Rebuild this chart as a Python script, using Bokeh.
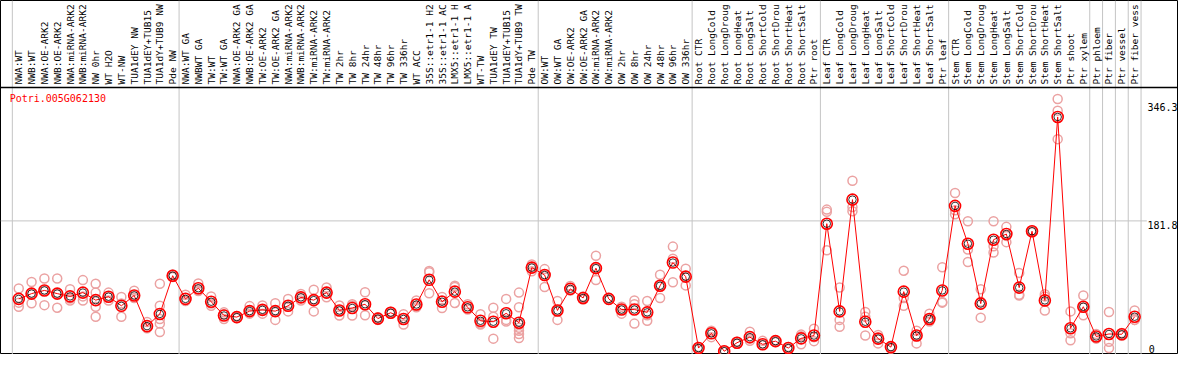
import math
from bokeh.plotting import figure
from bokeh.models import Range1d
from bokeh.core.properties import value
from bokeh.embed import file_html
from bokeh.resources import INLINE

gene_id = "Potri.005G062130"

categories = [
    "NWA:WT", "NWB:WT", "NWA:OE-ARK2", "NWB:OE-ARK2", "NWA:miRNA-ARK2", "NWB:miRNA-ARK2",
    "NW 0hr", "WT H2O", "WT-NW", "TUA1dEY NW", "TUA1dEY+TUB15", "TUA1dY+TUB9 NW", "Pde NW",
    "NWA:WT GA", "NWBWT GA", "TW:WT", "TW:WT GA", "NWA:OE-ARK2 GA", "NWB:OE-ARK2 GA",
    "TW:OE-ARK2", "TW:OE-ARK2 GA", "NWA:miRNA-ARK2", "NWB:miRNA-ARK2", "TW:miRNA-ARK2",
    "TW:miRNA-ARK2", "TW 2hr", "TW 8hr", "TW 24hr", "TW 48hr", "TW 96hr", "TW 336hr",
    "WT ACC", "35S::etr1-1 H2", "35S::etr1-1 AC", "LMX5::etr1-1 H", "LMX5::etr1-1 A",
    "WT-TW", "TUA1dEY TW", "TUA1dEY+TUB15", "TUA1dY+TUB9 TW", "Pde TW",
    "OW:WT", "OW:WT GA", "OW:OE-ARK2", "OW:OE-ARK2 GA", "OW:miRNA-ARK2", "OW:miRNA-ARK2",
    "OW 2hr", "OW 8hr", "OW 24hr", "OW 48hr", "OW 96hr", "OW 336hr",
    "Root CTR", "Root LongCold", "Root LongDroug", "Root LongHeat", "Root LongSalt",
    "Root ShortCold", "Root ShortDrou", "Root ShortHeat", "Root ShortSalt", "Ptr root",
    "Leaf CTR", "Leaf LongCold", "Leaf LongDroug", "Leaf LongHeat", "Leaf LongSalt",
    "Leaf ShortCold", "Leaf ShortDrou", "Leaf ShortHeat", "Leaf ShortSalt", "Ptr leaf",
    "Stem CTR", "Stem LongCold", "Stem LongDroug", "Stem LongHeat", "Stem LongSalt",
    "Stem ShortCold", "Stem ShortDrou", "Stem ShortHeat", "Stem ShortSalt", "Ptr shoot",
    "Ptr xylem", "Ptr phloem", "Ptr fiber", "Ptr vessel", "Ptr fiber vess",
]

# number of categories in each group (separated by grey lines)
group_sizes = [13, 28, 12, 10, 10, 11, 1, 1, 1, 1]

means = [
    73.2, 80.6, 85.0, 80.6, 76.7, 82.0, 71.5, 76.3, 63.6, 78.0, 35.3, 52.3, 105.5,
    73.2, 88.1, 69.3, 50.1, 47.9, 56.2, 58.0, 56.2, 63.6, 75.4, 71.5, 82.0, 57.1, 60.6,
    65.8, 45.8, 54.0, 45.3, 65.4, 99.8, 69.3, 83.3, 61.5, 42.7, 41.4, 53.2, 40.1, 116.8,
    106.4, 57.1, 87.2, 74.5, 116.0, 73.2, 58.4, 58.4, 54.5, 91.5, 123.8, 104.2,
    4.8, 25.3, 0.4, 12.2, 20.0, 10.0, 14.4, 4.8, 18.3, 22.2,
    177.9, 55.8, 211.4, 41.4, 17.9, 6.1, 83.3, 22.2, 45.3, 85.0,
    202.7, 150.0, 66.7, 155.6, 163.5, 88.9, 167.4, 71.1, 326.5, 32.3,
    62.3, 20.9, 24.4, 24.0, 48.4,
]

replicates = [
    [87.6, 68.0, 62.3], [96.8, 80.6, 67.1], [101.6, 85.0, 64.5], [101.6, 80.6, 61.0],
    [86.7, 73.7, 71.1], [99.4, 76.7, 71.1], [94.2, 82.0, 62.3, 48.4], [82.0, 76.3, 71.1],
    [75.9, 66.7, 48.4], [84.6, 78.0, 74.5], [41.0, 33.1, 32.3],
    [94.2, 63.6, 45.3, 38.8, 27.0], [107.2, 105.5, 103.8],
    [78.9, 71.1, 70.2], [94.6, 85.9, 84.1], [76.7, 63.6, 66.7], [54.5, 45.3, 51.9],
    [49.3, 47.9, 46.6], [63.2, 52.7, 56.2], [64.1, 52.7, 58.0], [67.1, 44.0, 56.2],
    [73.2, 55.8, 63.2], [80.2, 71.1, 74.5], [85.9, 55.8, 72.4], [89.0, 75.4, 81.1],
    [64.1, 50.1, 57.1], [65.8, 50.1, 63.6], [82.4, 50.5, 64.5], [47.5, 45.8, 44.0],
    [55.4, 54.0, 52.7], [51.9, 37.5, 46.2], [71.1, 61.5, 63.6], [112.0, 110.3, 81.1],
    [75.9, 60.6, 71.5], [91.5, 67.6, 89.8], [65.8, 58.4, 60.2], [51.9, 37.5, 38.8],
    [61.0, 48.4, 17.9], [73.2, 44.0, 41.8], [82.0, 61.5, 37.5, 33.1, 28.8, 24.4, 18.7],
    [121.2, 111.6, 116.8],
    [114.7, 89.8, 106.4], [70.2, 44.0, 57.1], [91.1, 85.0, 85.4], [76.7, 74.5, 72.4],
    [133.4, 99.4, 116.0], [74.5, 73.2, 71.9], [62.3, 52.7, 58.4], [71.1, 65.8, 38.8],
    [70.2, 42.7, 50.5], [106.8, 74.5, 91.5], [146.0, 129.0, 96.3], [115.1, 92.0, 105.1],
    [6.1, 4.8, 3.5], [28.8, 20.0, 26.6], [1.3, 0.4, 0.0], [13.5, 12.2, 10.9],
    [27.5, 14.8, 17.9], [14.8, 10.0, 9.1], [15.7, 14.4, 13.1], [6.1, 4.8, 3.5],
    [23.5, 10.0, 21.3], [31.8, 14.4, 20.0],
    [197.5, 194.4, 140.8], [89.0, 44.0, 34.4], [237.6, 201.0, 195.3], [55.0, 48.4, 22.2],
    [23.1, 17.9, 11.3], [7.0, 3.9, 6.1], [112.5, 74.5, 63.6], [28.8, 21.3, 11.3],
    [52.7, 41.8, 45.3], [117.3, 68.9, 68.0],
    [220.6, 196.6, 191.0], [181.4, 142.1, 124.7], [86.7, 69.3, 47.1], [181.4, 146.5, 137.8],
    [173.5, 160.9, 152.2], [109.4, 78.9, 78.0], [168.3, 167.4, 166.5], [79.8, 76.7, 57.1],
    [351.4, 335.3, 295.6], [55.8, 25.3, 15.7],
    [78.0, 61.5, 50.5], [24.4, 17.9, 20.0], [55.0, 13.5, 4.8], [25.7, 24.4, 22.2],
    [57.1, 44.0, 44.0],
]

tick_values = [0, 181.8, 346.3]
tick_labels = ["0", "181.8", "346.3"]

# ---------------------------------------------------------------------------
n = len(categories)
xs = list(range(1, n + 1))

Y_MIN, Y_MAX = -4.18, 488.6
LABEL_BASE = 367.5
X_MIN, X_MAX = -0.423, 91.42
FONT = value("DejaVu Sans Mono")

p = figure(width=1178, height=354, output_backend="svg", toolbar_location=None,
           x_range=Range1d(X_MIN, X_MAX), y_range=Range1d(Y_MIN, Y_MAX),
           x_axis_location=None, y_axis_location=None,
           min_border=0, min_border_left=0, min_border_right=0,
           min_border_top=0, min_border_bottom=0)
p.grid.visible = False
p.outline_line_color = "black"
p.outline_line_width = 1
p.background_fill_color = "white"
p.border_fill_color = "white"

# group separators (grey vertical lines)
bounds = [0.5]
acc = 0.5
for g in group_sizes:
    acc += g
    bounds.append(acc)
p.segment(x0=bounds, x1=bounds, y0=[Y_MIN] * len(bounds), y1=[Y_MAX] * len(bounds),
          line_color="#c4c4c4", line_width=1)

# horizontal grid line at middle tick
p.segment(x0=[X_MIN], x1=[88.95], y0=[tick_values[1]], y1=[tick_values[1]],
          line_color="#c4c4c4", line_width=1)

# separator between labels and plot
p.segment(x0=[X_MIN], x1=[X_MAX], y0=[LABEL_BASE], y1=[LABEL_BASE],
          line_color="black", line_width=1.5)

# category labels (rotated)
p.text(x=xs, y=[LABEL_BASE + 4.2] * n, text=categories, angle=math.pi / 2,
       text_align="left", text_baseline="middle",
       text_font=FONT, text_font_size="9.5px", text_color="black")

# gene title
p.text(x=[0.29], y=[360.5], text=[gene_id], text_align="left", text_baseline="top",
       text_font=FONT, text_font_size="10px", text_color="red")

# right tick labels
p.text(x=[89.0, 89.0], y=tick_values[1:], text=tick_labels[1:], text_align="left",
       text_baseline="top", text_font=FONT, text_font_size="10px", text_color="black")
p.text(x=[89.1], y=[tick_values[0]], text=[tick_labels[0]], text_align="left",
       text_baseline="alphabetic", y_offset=-2, text_font=FONT,
       text_font_size="10px", text_color="black")

# replicates
rx, ry = [], []
for i, reps in enumerate(replicates):
    for v in reps:
        rx.append(i + 1)
        ry.append(v)
p.scatter(rx, ry, marker="circle", size=9, fill_color=None,
          line_color="#eba2a2", line_width=1.5)

# mean line and markers
p.line(xs, means, line_color="red", line_width=1)
p.scatter(xs, means, marker="circle", size=11, fill_color=None,
          line_color="red", line_width=1.6)
p.scatter(xs, means, marker="circle", size=7.5, fill_color=None,
          line_color="black", line_width=0.8)

open("out.html", "w").write(file_html(p, INLINE))
